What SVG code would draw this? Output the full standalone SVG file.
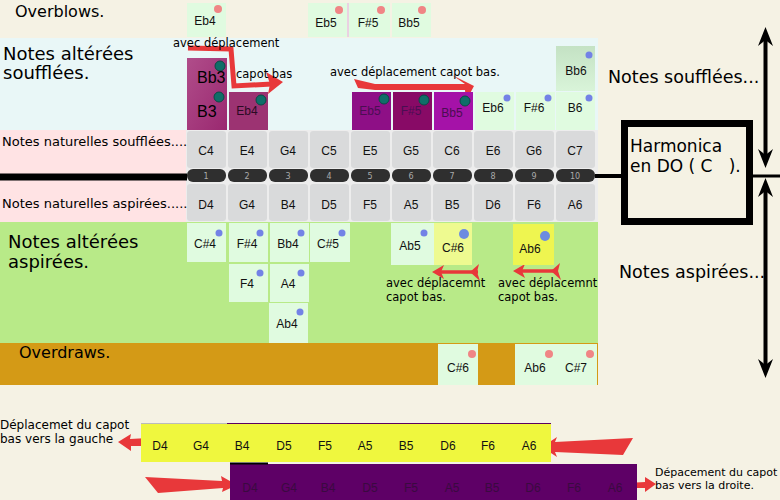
<svg xmlns="http://www.w3.org/2000/svg" width="780" height="500" viewBox="0 0 780 500">
<style>
.lbl{font-family:"DejaVu Sans",sans-serif;fill:#000}
.big{font-size:18px}
.mid{font-size:16px}
.sm{font-size:13px}
.xs{font-size:11.5px}
.cell{font-family:"Liberation Sans",Arial,sans-serif;font-size:12px;text-anchor:middle;fill:#111}
.num{font-family:"DejaVu Sans",sans-serif;font-size:8px;text-anchor:middle;fill:#aaa}
.gray{fill:#D9DADB}
.lg{fill:#E0FBE0}
.pill{fill:#2F2F2F}
.tdot{fill:#0F6E68;stroke:#0A4A46;stroke-width:1}
.bdot{fill:#7382E6}
.rdot{fill:#F08585}
.ptxt{font-family:"Liberation Sans",Arial,sans-serif;font-size:12px;text-anchor:middle;fill:#4A0E52}
.dtxt{font-family:"Liberation Sans",Arial,sans-serif;font-size:12px;text-anchor:middle;fill:#3A0A40}
</style>
<defs>
<linearGradient id="mag" x1="0" y1="0" x2="1" y2="1"><stop offset="0" stop-color="#B04D8A"/><stop offset="1" stop-color="#9A2870"/></linearGradient>
<linearGradient id="bb6" x1="0" y1="0" x2="0" y2="1"><stop offset="0" stop-color="#C4E2C4"/><stop offset="1" stop-color="#D9F4D9"/></linearGradient>
</defs>
<rect width="780" height="500" fill="#F5F2E4"/>

<g id="bands">
<rect x="0" y="38" width="598" height="92" fill="#E9F7F7"/>
<rect x="0" y="130" width="186" height="92" fill="#FFE3E4"/>
<rect x="186" y="130" width="412" height="92" fill="#EDEDED"/>
<rect x="0" y="222" width="598" height="121" fill="#B8EA88"/>
<rect x="0" y="343" width="598" height="42" fill="#D49A16"/>
</g>

<g id="labels">
<text class="lbl mid" x="15" y="17">Overblows.</text>
<text class="lbl big" x="3" y="60">Notes altérées</text>
<text class="lbl big" x="3" y="79">soufflées.</text>
<text class="lbl sm" x="2" y="146">Notes naturelles soufflées....</text>
<text class="lbl sm" x="2" y="208">Notes naturelles aspirées.....</text>
<text class="lbl big" x="8" y="248">Notes altérées</text>
<text class="lbl big" x="8" y="268">aspirées.</text>
<text class="lbl mid" x="19" y="358">Overdraws.</text>
<text class="lbl" style="font-size:17.5px" x="608" y="83">Notes soufflées...</text>
<text class="lbl" style="font-size:17.5px" x="619" y="278">Notes aspirées...</text>
</g>

<g id="connectors">
<line x1="0" y1="177" x2="187" y2="177" stroke="#000" stroke-width="7"/>
<line x1="595" y1="176" x2="622" y2="176" stroke="#000" stroke-width="4"/>
<line x1="753" y1="176" x2="780" y2="176" stroke="#000" stroke-width="3"/>
<line x1="765.5" y1="34" x2="765.5" y2="162" stroke="#000" stroke-width="4"/>
<polygon points="765.5,27 758,46 765.5,40 773,46" fill="#000"/>
<polygon points="765.5,168 758,149 765.5,155 773,149" fill="#000"/>
<line x1="765.5" y1="184" x2="765.5" y2="372" stroke="#000" stroke-width="4"/>
<polygon points="765.5,178 758,197 765.5,191 773,197" fill="#000"/>
<polygon points="765.5,378 758,359 765.5,365 773,359" fill="#000"/>
<polyline points="188,48 231,49 234,86 272,84" fill="none" stroke="#E8383A" stroke-width="5" stroke-linejoin="miter"/>
<polygon points="283,82 266,72 270,84 268,94" fill="#E8383A"/>
<polygon points="354,79 375,84 465,84 452,75 474,86 466,101 465,90 375,90 358,88" fill="#E8383A"/>
<line x1="438" y1="272" x2="478" y2="272" stroke="#E8383A" stroke-width="3.5"/>
<polygon points="432,272 444,265 441,272 444,279" fill="#E8383A"/>
<polygon points="470,272 479,264 477,272 480,281" fill="#E8383A"/>
<line x1="519" y1="271" x2="558" y2="271" stroke="#E8383A" stroke-width="3.5"/>
<polygon points="513,271 525,264 522,271 525,278" fill="#E8383A"/>
<polygon points="551,271 560,263 558,271 561,280" fill="#E8383A"/>
<polygon points="118,442 131,434 130,439 148,438 148,446 131,446 131,451" fill="#E8383A"/>
<polygon points="145,477 222,481 221,476 237,485 222,492 223,488 158,493" fill="#E8383A"/>
<polygon points="542,447 557,437 555,442 633,438 623,455 555,452 557,457" fill="#E8383A"/>
<polygon points="627,483 645,482 645,477 656,484 645,492 645,488 627,488" fill="#E8383A"/>
</g>

<g id="harmonica">
<rect x="624.5" y="123.5" width="125" height="98" fill="none" stroke="#000" stroke-width="7"/>
<text class="lbl" style="font-size:17px" x="630" y="152">Harmonica</text>
<text class="lbl" style="font-size:17px" x="630" y="172">en DO ( C&#160;&#160;&#160;).</text>
</g>

<g id="overblows">
<rect class="lg" x="187" y="3" width="39" height="34"/><circle class="rdot" cx="218" cy="9" r="4"/><text class="cell" x="205" y="25">Eb4</text>
<rect class="lg" x="308" y="3" width="39" height="34"/><circle class="rdot" cx="339" cy="10" r="4"/><text class="cell" x="326" y="27">Eb5</text>
<rect class="lg" x="349" y="3" width="41" height="34"/><circle class="rdot" cx="381" cy="10" r="4"/><text class="cell" x="368" y="27">F#5</text>
<rect class="lg" x="392" y="3" width="39" height="34"/><circle class="rdot" cx="422" cy="10" r="4"/><text class="cell" x="409" y="27">Bb5</text>
<line x1="348" y1="3" x2="348" y2="37" stroke="#E0B0E0" stroke-width="1"/>
</g>

<g id="blow-bends">
<rect x="187" y="58" width="40" height="72" fill="url(#mag)"/>
<circle class="tdot" cx="220" cy="66" r="5"/><text class="lbl" style="font-family:'Liberation Sans',Arial,sans-serif;font-size:16px" x="197" y="83">Bb3</text>
<circle class="tdot" cx="219" cy="97" r="5"/><text class="lbl" style="font-family:'Liberation Sans',Arial,sans-serif;font-size:16px" x="197" y="117">B3</text>
<rect x="229" y="92" width="39" height="38" fill="#9C3372"/><circle class="tdot" cx="261" cy="100" r="5"/><text class="ptxt" x="247" y="115" style="fill:#2A0A24">Eb4</text>
<rect x="352" y="92" width="39" height="38" fill="#8E0F86"/><circle class="tdot" cx="384" cy="99" r="5"/><text class="ptxt" x="370" y="115">Eb5</text>
<rect x="393" y="92" width="39" height="38" fill="#880A66"/><circle class="tdot" cx="424" cy="100" r="5"/><text class="ptxt" x="411" y="115">F#5</text>
<rect x="434" y="92" width="39" height="38" fill="#A512A8"/><circle class="tdot" cx="465" cy="101" r="5"/><text class="ptxt" x="452" y="117">Bb5</text>
<rect class="lg" x="475" y="92" width="39" height="38"/><circle class="bdot" cx="507" cy="98" r="3.5"/><text class="cell" x="493" y="112">Eb6</text>
<rect class="lg" x="516" y="92" width="39" height="38"/><circle class="bdot" cx="548" cy="98" r="3.5"/><text class="cell" x="534" y="112">F#6</text>
<rect class="lg" x="556" y="92" width="39" height="38"/><circle class="bdot" cx="589" cy="98" r="3.5"/><text class="cell" x="575" y="112">B6</text>
<rect x="556" y="46" width="39" height="45" fill="url(#bb6)"/><circle class="bdot" cx="589" cy="55" r="3.5"/><text class="cell" x="576" y="75">Bb6</text>
</g>

<g id="blow-row">
<rect class="gray" x="187" y="131" width="39" height="37" rx="3"/><text class="cell" x="206" y="155">C4</text>
<rect class="gray" x="228" y="131" width="39" height="37" rx="3"/><text class="cell" x="247" y="155">E4</text>
<rect class="gray" x="269" y="131" width="39" height="37" rx="3"/><text class="cell" x="288" y="155">G4</text>
<rect class="gray" x="310" y="131" width="39" height="37" rx="3"/><text class="cell" x="329" y="155">C5</text>
<rect class="gray" x="351" y="131" width="39" height="37" rx="3"/><text class="cell" x="370" y="155">E5</text>
<rect class="gray" x="392" y="131" width="39" height="37" rx="3"/><text class="cell" x="411" y="155">G5</text>
<rect class="gray" x="433" y="131" width="39" height="37" rx="3"/><text class="cell" x="452" y="155">C6</text>
<rect class="gray" x="474" y="131" width="39" height="37" rx="3"/><text class="cell" x="493" y="155">E6</text>
<rect class="gray" x="515" y="131" width="39" height="37" rx="3"/><text class="cell" x="534" y="155">G6</text>
<rect class="gray" x="556" y="131" width="39" height="37" rx="3"/><text class="cell" x="575" y="155">C7</text>
</g>

<g id="holes">
<rect class="pill" x="187" y="169" width="39" height="13" rx="6"/><text class="num" x="206" y="178.5">1</text>
<rect class="pill" x="228" y="169" width="39" height="13" rx="6"/><text class="num" x="247" y="178.5">2</text>
<rect class="pill" x="269" y="169" width="39" height="13" rx="6"/><text class="num" x="288" y="178.5">3</text>
<rect class="pill" x="310" y="169" width="39" height="13" rx="6"/><text class="num" x="329" y="178.5">4</text>
<rect class="pill" x="351" y="169" width="39" height="13" rx="6"/><text class="num" x="370" y="178.5">5</text>
<rect class="pill" x="392" y="169" width="39" height="13" rx="6"/><text class="num" x="411" y="178.5">6</text>
<rect class="pill" x="433" y="169" width="39" height="13" rx="6"/><text class="num" x="452" y="178.5">7</text>
<rect class="pill" x="474" y="169" width="39" height="13" rx="6"/><text class="num" x="493" y="178.5">8</text>
<rect class="pill" x="515" y="169" width="39" height="13" rx="6"/><text class="num" x="534" y="178.5">9</text>
<rect class="pill" x="556" y="169" width="39" height="13" rx="6"/><text class="num" x="575" y="178.5">10</text>
</g>

<g id="draw-row">
<rect class="gray" x="187" y="184" width="39" height="37" rx="3"/><text class="cell" x="206" y="209">D4</text>
<rect class="gray" x="228" y="184" width="39" height="37" rx="3"/><text class="cell" x="247" y="209">G4</text>
<rect class="gray" x="269" y="184" width="39" height="37" rx="3"/><text class="cell" x="288" y="209">B4</text>
<rect class="gray" x="310" y="184" width="39" height="37" rx="3"/><text class="cell" x="329" y="209">D5</text>
<rect class="gray" x="351" y="184" width="39" height="37" rx="3"/><text class="cell" x="370" y="209">F5</text>
<rect class="gray" x="392" y="184" width="39" height="37" rx="3"/><text class="cell" x="411" y="209">A5</text>
<rect class="gray" x="433" y="184" width="39" height="37" rx="3"/><text class="cell" x="452" y="209">B5</text>
<rect class="gray" x="474" y="184" width="39" height="37" rx="3"/><text class="cell" x="493" y="209">D6</text>
<rect class="gray" x="515" y="184" width="39" height="37" rx="3"/><text class="cell" x="534" y="209">F6</text>
<rect class="gray" x="556" y="184" width="39" height="37" rx="3"/><text class="cell" x="575" y="209">A6</text>
</g>

<g id="draw-bends">
<rect class="lg" x="187" y="223" width="39" height="39"/><circle class="bdot" cx="219" cy="233" r="3.5"/><text class="cell" x="205" y="248">C#4</text>
<rect class="lg" x="229" y="223" width="39" height="39"/><circle class="bdot" cx="260" cy="233" r="3.5"/><text class="cell" x="247" y="248">F#4</text>
<rect class="lg" x="270" y="223" width="39" height="39"/><circle class="bdot" cx="301" cy="233" r="3.5"/><text class="cell" x="288" y="248">Bb4</text>
<rect class="lg" x="310" y="223" width="40" height="39"/><circle class="bdot" cx="342" cy="233" r="3.5"/><text class="cell" x="328" y="248">C#5</text>
<rect class="lg" x="391" y="223" width="43" height="42"/><circle class="bdot" cx="424" cy="233" r="3.5"/><text class="cell" x="410" y="250">Ab5</text>
<rect x="434" y="223" width="38" height="42" fill="#EEFA90"/><circle cx="464" cy="234" r="5" fill="#6C8CE0"/><text class="cell" x="453" y="252">C#6</text>
<rect x="513" y="224" width="41" height="41" fill="#EEF550"/><circle cx="545" cy="236" r="5" fill="#6C8CE0"/><text class="cell" x="530" y="253">Ab6</text>
<rect class="lg" x="229" y="264" width="39" height="38"/><circle class="bdot" cx="260" cy="273" r="3.5"/><text class="cell" x="247" y="288">F4</text>
<rect class="lg" x="270" y="264" width="39" height="38"/><circle class="bdot" cx="301" cy="273" r="3.5"/><text class="cell" x="288" y="288">A4</text>
<rect class="lg" x="269" y="303" width="39" height="40"/><circle class="bdot" cx="300" cy="312" r="3.5"/><text class="cell" x="287" y="328">Ab4</text>
<text class="lbl xs" x="386" y="287">avec déplacemnt</text>
<text class="lbl xs" x="386" y="301">capot bas.</text>
<text class="lbl xs" x="498" y="287">avec déplacemnt</text>
<text class="lbl xs" x="498" y="301">capot bas.</text>
</g>

<g id="overdraws">
<rect class="lg" x="438" y="344" width="40" height="41"/><circle class="rdot" cx="472" cy="354" r="4"/><text class="cell" x="458" y="372">C#6</text>
<rect class="lg" x="515" y="344" width="42" height="41"/><circle class="rdot" cx="549" cy="354" r="4"/><text class="cell" x="535" y="372">Ab6</text>
<rect class="lg" x="557" y="344" width="40" height="41"/><circle class="rdot" cx="590" cy="354" r="4"/><text class="cell" x="576" y="372">C#7</text>
</g>

<g id="top-texts">
<text class="lbl xs" x="173" y="47">avec déplacement</text>
<text class="lbl xs" x="236" y="78">capot bas</text>
<text class="lbl xs" x="330" y="76">avec déplacement capot bas.</text>
</g>

<g id="shift-left">
<line x1="141" y1="423.5" x2="227" y2="423.5" stroke="#BBB" stroke-width="1"/>
<line x1="227" y1="423.5" x2="551" y2="423.5" stroke="#5A0060" stroke-width="1"/>
<rect x="141" y="424" width="410" height="38" fill="#EFF73E"/>
<text class="cell" x="160" y="450">D4</text><text class="cell" x="201" y="450">G4</text><text class="cell" x="242" y="450">B4</text><text class="cell" x="284" y="450">D5</text><text class="cell" x="325" y="450">F5</text><text class="cell" x="365" y="450">A5</text><text class="cell" x="406" y="450">B5</text><text class="cell" x="448" y="450">D6</text><text class="cell" x="488" y="450">F6</text><text class="cell" x="529" y="450">A6</text>
<text class="lbl" style="font-size:12px" x="0" y="429">Déplacemet du capot</text>
<text class="lbl" style="font-size:12px" x="0" y="443">bas vers la gauche</text>
</g>

<g id="shift-right">
<rect x="230" y="464" width="407" height="36" fill="#5E0066"/>
<line x1="230" y1="463.5" x2="268" y2="463.5" stroke="#000" stroke-width="2"/>
<text class="dtxt" x="250" y="492">D4</text><text class="dtxt" x="289" y="492">G4</text><text class="dtxt" x="328" y="492">B4</text><text class="dtxt" x="370" y="492">D5</text><text class="dtxt" x="411" y="492">F5</text><text class="dtxt" x="452" y="492">A5</text><text class="dtxt" x="492" y="492">B5</text><text class="dtxt" x="533" y="492">D6</text><text class="dtxt" x="574" y="492">F6</text><text class="dtxt" x="615" y="492">A6</text>
<text class="lbl" style="font-size:11px" x="655" y="476">Dépacement du capot</text>
<text class="lbl" style="font-size:11px" x="655" y="489">bas vers la droite.</text>
</g>
</svg>
